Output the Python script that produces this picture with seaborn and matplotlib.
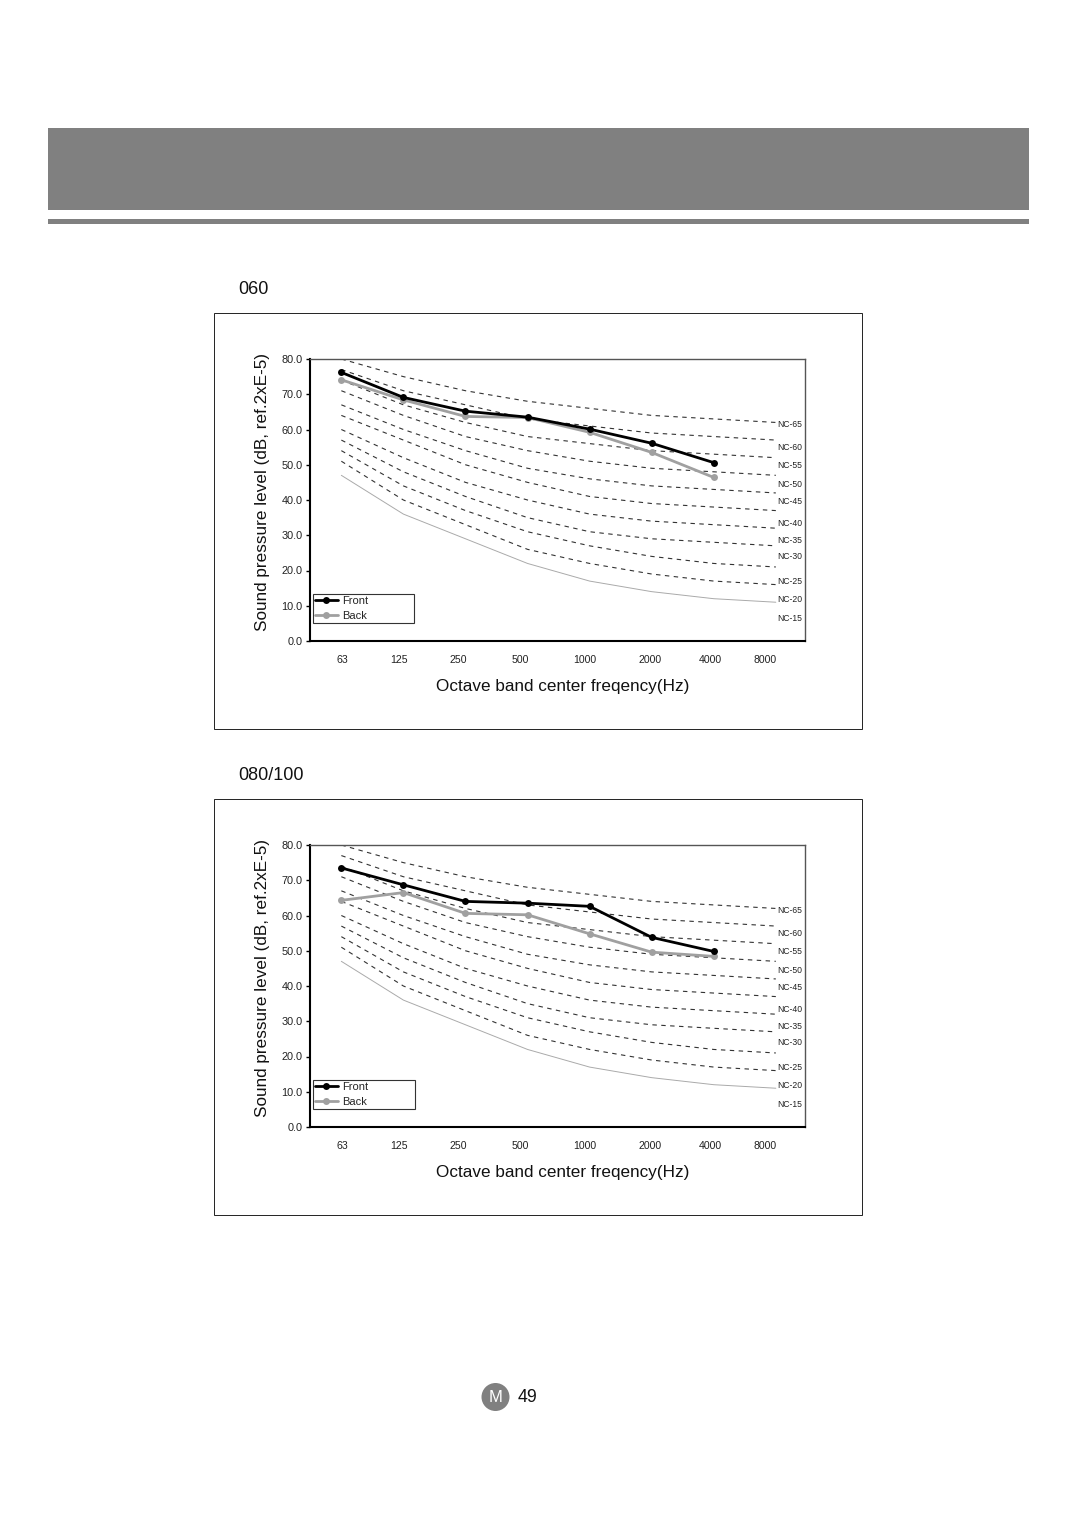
import matplotlib
matplotlib.use('Agg')
import matplotlib.pyplot as plt
from matplotlib.patches import Rectangle, Ellipse
import seaborn as sns

# Octave bands and NC reference curves
bands = [0, 1, 2, 3, 4, 5, 6, 7]
band_labels = ['63', '125', '250', '500', '1000', '2000', '4000', '8000']
y_ticks = [0, 10, 20, 30, 40, 50, 60, 70, 80]

nc_names = ['NC-65', 'NC-60', 'NC-55', 'NC-50', 'NC-45', 'NC-40',
            'NC-35', 'NC-30', 'NC-25', 'NC-20', 'NC-15']
nc_65 = [80, 75, 71, 68, 66, 64, 63, 62]
nc_60 = [77, 71, 67, 63, 61, 59, 58, 57]
nc_55 = [74, 67, 62, 58, 56, 54, 53, 52]
nc_50 = [71, 64, 58, 54, 51, 49, 48, 47]
nc_45 = [67, 60, 54, 49, 46, 44, 43, 42]
nc_40 = [64, 57, 50, 45, 41, 39, 38, 37]
nc_35 = [60, 52, 45, 40, 36, 34, 33, 32]
nc_30 = [57, 48, 41, 35, 31, 29, 28, 27]
nc_25 = [54, 44, 37, 31, 27, 24, 22, 21]
nc_20 = [51, 40, 33, 26, 22, 19, 17, 16]
nc_15 = [47, 36, 29, 22, 17, 14, 12, 11]
nc_curves = [nc_65, nc_60, nc_55, nc_50, nc_45, nc_40, nc_35, nc_30, nc_25, nc_20, nc_15]

# Measured levels, 4000 Hz is the last band measured
front_060 = [76.2, 69.1, 65.2, 63.5, 60.1, 56.1, 50.6]
back_060 = [74.1, 68.4, 63.7, 63.4, 59.2, 53.5, 46.4]
front_080 = [73.5, 68.7, 64.0, 63.5, 62.6, 53.8, 49.8]
back_080 = [64.3, 66.5, 60.6, 60.2, 54.8, 49.6, 48.4]

# Layout
W, H = 1080, 1528
label_x = [0.02, 0.93, 1.88, 2.89, 3.92, 4.97, 5.95, 6.83]
nc_label_y = [61.5, 55.0, 49.9, 44.5, 39.7, 33.4, 28.6, 24.1, 17.0, 11.9, 6.5]

sns.set_style('white')
plt.rcParams['font.family'] = ['Liberation Sans', 'DejaVu Sans']

fig = plt.figure(figsize=(W / 100, H / 100), dpi=100)


def px_rect(x0, y0, x1, y1, **kw):
    fig.add_artist(Rectangle((x0 / W, 1 - y1 / H), (x1 - x0) / W, (y1 - y0) / H,
                             transform=fig.transFigure, **kw))


def px_text(x, y, s, **kw):
    fig.text(x / W, 1 - y / H, s, **kw)


def draw_panel(top, front, back, legend_w, label_frac):
    bottom = top + 282
    left, right = 310.3, 805
    # outer box of the panel
    px_rect(214, top - 46, 862, top + 370, facecolor='none', edgecolor='#222222', linewidth=0.7)
    ax = fig.add_axes([left / W, 1 - bottom / H, (right - left) / W, (bottom - top) / H])

    for i, curve in enumerate(nc_curves):
        if nc_names[i] == 'NC-15':
            sns.lineplot(x=bands, y=curve, color='#aaaaaa', linewidth=0.7, ax=ax)
        else:
            sns.lineplot(x=bands, y=curve, color='#333333', linewidth=0.8,
                         linestyle=(0, (4, 4)), ax=ax)
        ax.text(7.42, nc_label_y[i], nc_names[i], ha='right', va='center', fontsize=6.2,
                color='#222222')

    sns.lineplot(x=bands[:7], y=back, color='#a0a0a0', linewidth=2.0, marker='o',
                 markersize=5, markeredgewidth=0, label='Back', ax=ax)
    sns.lineplot(x=bands[:7], y=front, color='black', linewidth=2.0, marker='o',
                 markersize=5, markeredgewidth=0, label='Front', ax=ax)

    ax.set_xlim(-0.5, 7.47)
    ax.set_ylim(0, 80)
    ax.set_xticks(label_x)
    ax.set_xticklabels(band_labels)
    ax.set_yticks(y_ticks)
    ax.set_yticklabels(['%.1f' % v for v in y_ticks])
    ax.tick_params(axis='x', length=0, pad=10, labelsize=7.6, colors='#222222')
    ax.tick_params(axis='y', left=True, length=3, width=1, pad=2.5, labelsize=7.8,
                   color='black', labelcolor='#222222')

    for side in ['left', 'bottom']:
        ax.spines[side].set_color('black')
        ax.spines[side].set_linewidth(1.5)
    for side in ['top', 'right']:
        ax.spines[side].set_color('#555555')
        ax.spines[side].set_linewidth(1.0)

    ax.set_ylabel('Sound pressure level (dB, ref.2xE-5)', fontsize=12.3, color='#111111')
    ax.yaxis.set_label_coords((270 - left) / (right - left), label_frac)
    ax.set_xlabel('Octave band center freqency(Hz)', fontsize=12.3, color='#111111', va='center')
    ax.xaxis.set_label_coords((563 - left) / (right - left), -46 / 282)

    handles, labels = ax.get_legend_handles_labels()
    ax.legend(handles[::-1], labels[::-1], loc='lower left', mode='expand',
              bbox_to_anchor=(3 / 494.7, 18 / 282, legend_w / 494.7, 29 / 282),
              borderaxespad=0, borderpad=0.18, fontsize=8.0, frameon=True, fancybox=False,
              framealpha=1, edgecolor='#333333', handlelength=2.0, handletextpad=0.4,
              labelspacing=0.45)
    ax.get_legend().get_frame().set_linewidth(0.8)


# Page header bands
px_rect(48, 128, 1029, 210, facecolor='#808080', edgecolor='none')
px_rect(48, 219, 1029, 224, facecolor='#808080', edgecolor='none')

px_text(238, 290, '060', fontsize=13, va='center', color='#111111')
px_text(238, 776, '080/100', fontsize=13, va='center', color='#111111')

draw_panel(359, front_060, back_060, 101, 0.528)
draw_panel(845, front_080, back_080, 102, 0.5266)

# Page number
fig.add_artist(Ellipse((495.5 / W, 1 - 1397 / H), 28 / W, 28 / H, transform=fig.transFigure,
                       facecolor='#808080', edgecolor='none'))
px_text(495.5, 1397, 'M', fontsize=12, ha='center', va='center', color='white')
px_text(518, 1398, '49', fontsize=12.8, va='center', color='#111111')

fig.savefig('out.png', dpi=100)
